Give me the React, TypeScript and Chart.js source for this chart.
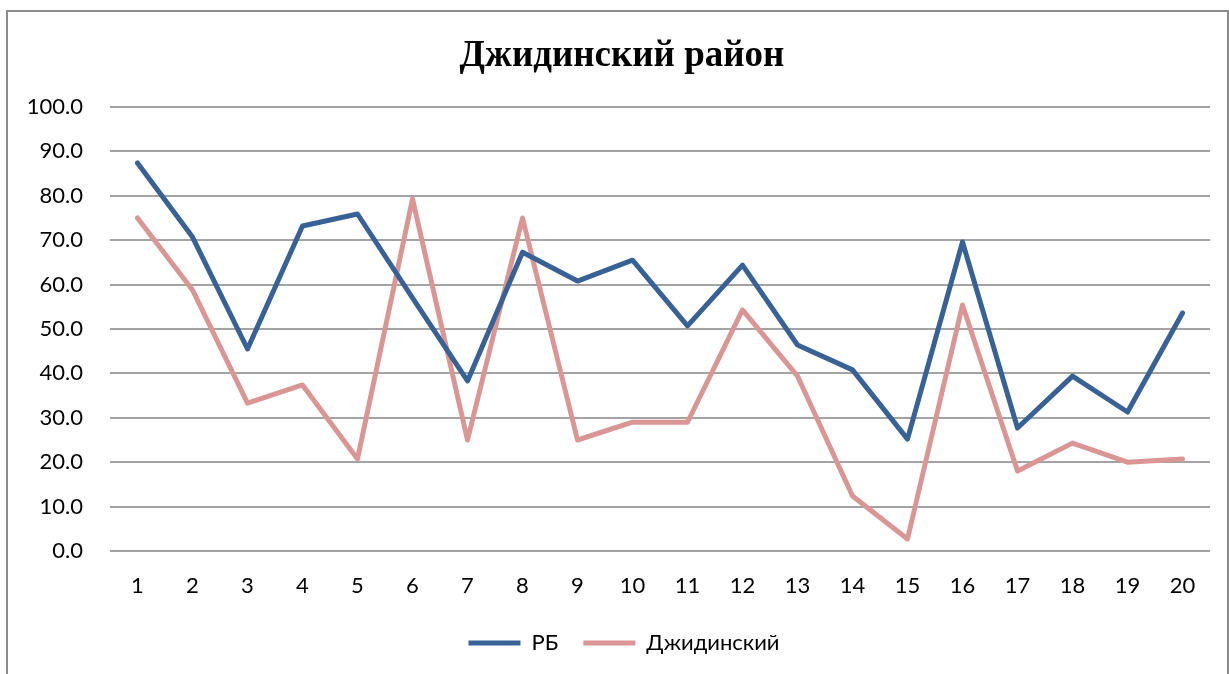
import React, { useEffect, useRef } from "react";
import { Chart, registerables } from "chart.js";

Chart.register(...registerables);

const categories = ["1","2","3","4","5","6","7","8","9","10","11","12","13","14","15","16","17","18","19","20"];
const seriesRB = [87.4, 70.7, 45.5, 73.2, 75.9, 57.0, 38.3, 67.3, 60.8, 65.5, 50.7, 64.4, 46.4, 40.8, 25.2, 69.6, 27.7, 39.4, 31.3, 53.6];
const seriesDzh = [75.0, 58.8, 33.3, 37.4, 20.7, 79.3, 25.0, 75.0, 25.0, 29.0, 29.0, 54.3, 39.4, 12.4, 2.7, 55.4, 18.0, 24.3, 20.0, 20.7];
const seriesNames = ["РБ", "Джидинский"];
const titleText = "Джидинский район";

const FONT = "Lato, 'Noto Sans', sans-serif";

const shiftBoxes = {
  id: "shiftBoxes",
  afterLayout(chart: any) {
    if (chart.titleBlock) chart.titleBlock.left += 20;
    if (chart.legend) chart.legend.left += 24;
  },
};

export default function App() {
  const ref = useRef<HTMLCanvasElement>(null);
  useEffect(() => {
    if (!ref.current) return;
    const chart = new Chart(ref.current, {
      type: "line",
      data: {
        labels: categories,
        datasets: [
          {
            label: seriesNames[0],
            data: seriesRB,
            borderColor: "#386195",
            backgroundColor: "#386195",
            borderWidth: 5,
            pointRadius: 0,
            borderCapStyle: "round",
            borderJoinStyle: "round",
            tension: 0,
          },
          {
            label: seriesNames[1],
            data: seriesDzh,
            borderColor: "#d99694",
            backgroundColor: "#d99694",
            borderWidth: 5,
            pointRadius: 0,
            borderCapStyle: "round",
            borderJoinStyle: "round",
            tension: 0,
          },
        ],
      },
      plugins: [shiftBoxes],
      options: {
        responsive: false,
        animation: false,
        layout: { padding: { left: 14, right: 19, top: 0, bottom: 10 } },
        plugins: {
          title: {
            display: true,
            text: titleText,
            color: "#000",
            font: { family: "'Liberation Serif', 'Times New Roman', serif", size: 37, weight: "bold" },
            padding: { top: 34, bottom: 28.6 },
          },
          legend: {
            position: "bottom",
            labels: {
              usePointStyle: true,
              pointStyle: "line",
              pointStyleWidth: 52,
              boxWidth: 52,
              color: "#000",
              font: { family: FONT, size: 22 },
              padding: 25,
            },
          },
          tooltip: { enabled: false },
        },
        scales: {
          x: {
            offset: true,
            grid: { display: false, drawTicks: false },
            border: { display: false },
            afterFit: (scale: any) => {
              scale.height = 56;
            },
            ticks: {
              color: "#000",
              font: { family: FONT, size: 22 },
              padding: 22,
              maxRotation: 0,
              autoSkip: false,
            },
          },
          y: {
            min: 0,
            max: 100,
            grid: { color: "#a3a3a3", lineWidth: 2, drawTicks: false },
            border: { display: false },
            afterFit: (scale: any) => {
              scale.width = 96;
            },
            ticks: {
              stepSize: 10,
              color: "#000",
              font: { family: FONT, size: 22 },
              padding: 27,
              callback: (v: any) => Number(v).toFixed(1),
            },
          },
        },
      },
    });
    return () => chart.destroy();
  }, []);

  return (
    <div style={{ position: "fixed", left: 0, top: 0, width: 1229, height: 674, overflow: "hidden", background: "#fff" }}>
      <canvas ref={ref} width={1229} height={674} style={{ position: "absolute", left: 0, top: 0 }} />
      <div style={{ position: "absolute", left: 6, top: 10, width: 1219, height: 720, border: "2px solid #8c8c8c", pointerEvents: "none" }} />
    </div>
  );
}
